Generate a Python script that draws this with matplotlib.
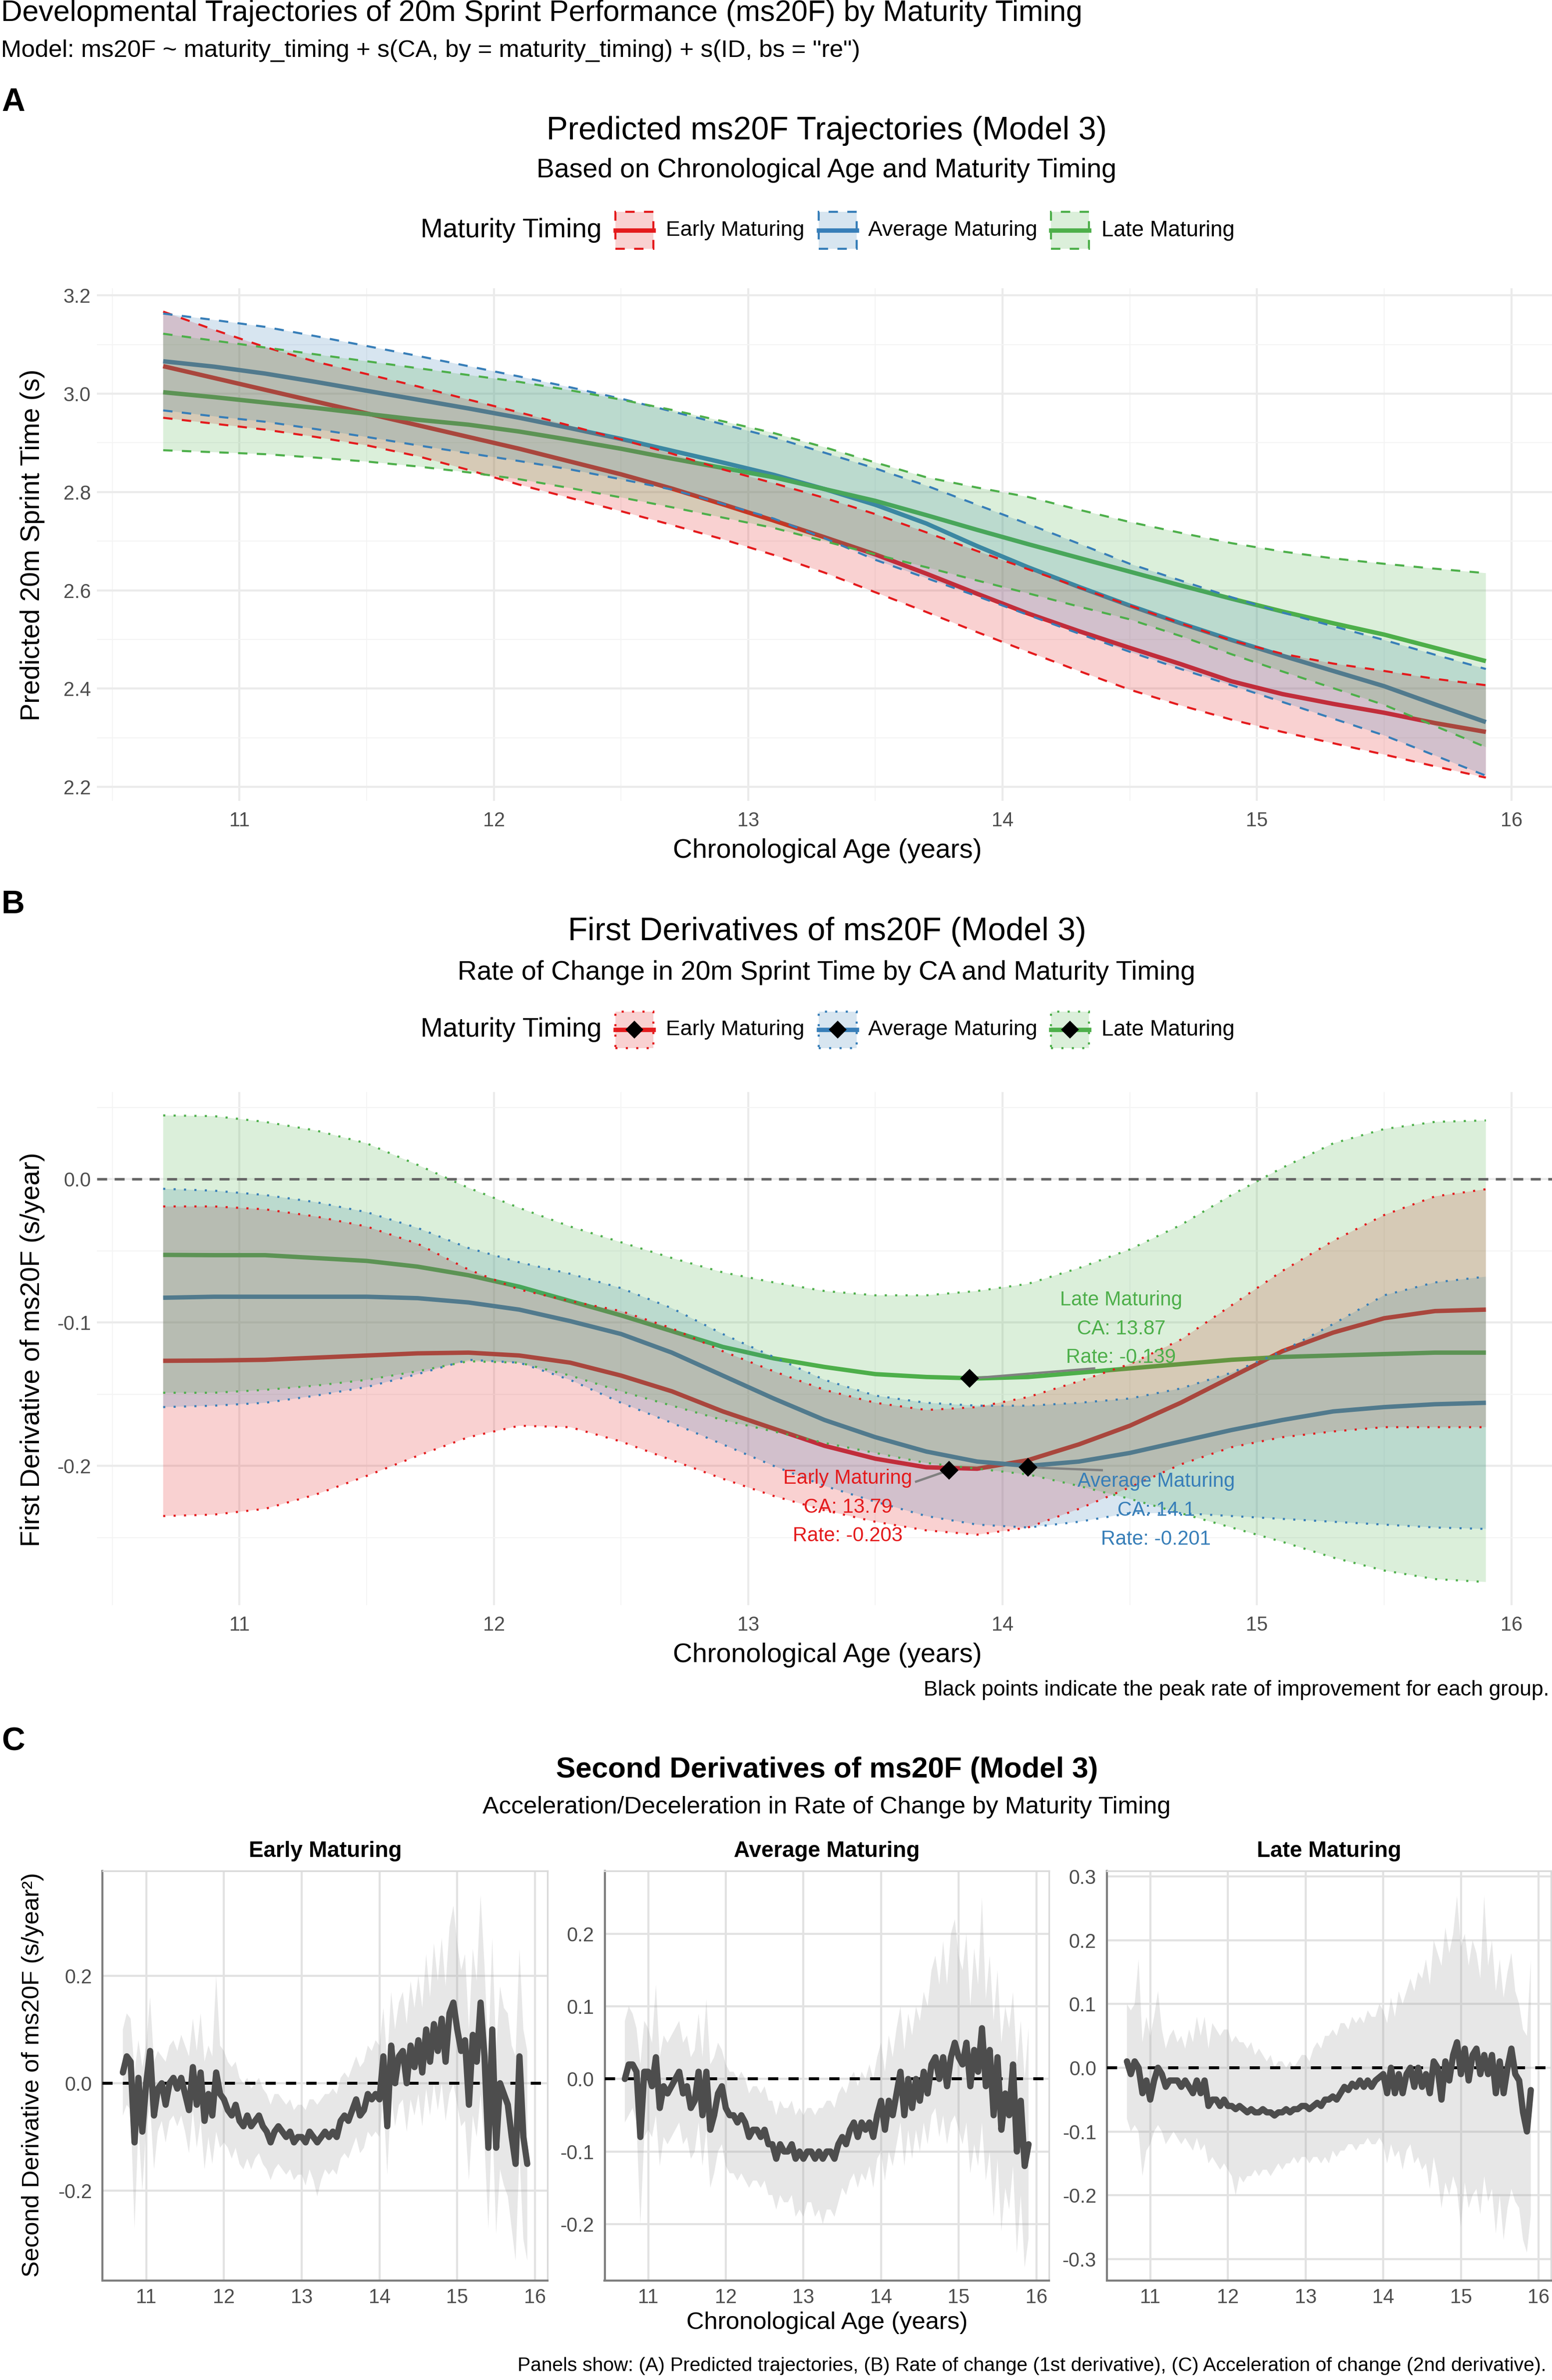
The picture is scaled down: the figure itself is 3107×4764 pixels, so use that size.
import numpy as np
import matplotlib
matplotlib.use("Agg")
import matplotlib.pyplot as plt
from matplotlib.patches import Rectangle
from matplotlib.lines import Line2D
from matplotlib.ticker import FormatStrFormatter

plt.rcParams['font.family'] = ['Liberation Sans', 'DejaVu Sans']
plt.rcParams['axes.unicode_minus'] = False

# ---------------------------------------------------------------- data
groups = ["Early Maturing", "Average Maturing", "Late Maturing"]
group_colors = ["#E41A1C", "#377EB8", "#4DAF4A"]

ca = [10.7, 10.9, 11.1, 11.3, 11.5, 11.7, 11.9, 12.1, 12.3, 12.5, 12.7, 12.9, 13.1, 13.3,
      13.5, 13.7, 13.9, 14.1, 14.3, 14.5, 14.7, 14.9, 15.1, 15.3, 15.5, 15.7, 15.9]

# Panel A: predicted ms20F (fit, lower, upper)
fit_early = [3.056, 3.032, 3.008, 2.984, 2.960, 2.936, 2.912, 2.888, 2.862, 2.836, 2.807, 2.775, 2.742, 2.708,
             2.673, 2.634, 2.593, 2.553, 2.517, 2.483, 2.450, 2.415, 2.389, 2.369, 2.351, 2.330, 2.312]
upr_early = [3.167, 3.130, 3.095, 3.065, 3.040, 3.015, 2.988, 2.962, 2.935, 2.907, 2.878, 2.846, 2.818, 2.788,
             2.755, 2.718, 2.680, 2.643, 2.606, 2.569, 2.533, 2.498, 2.471, 2.451, 2.436, 2.420, 2.407]
lwr_early = [2.951, 2.939, 2.927, 2.912, 2.895, 2.873, 2.845, 2.815, 2.788, 2.761, 2.733, 2.704, 2.672, 2.636,
             2.596, 2.556, 2.515, 2.475, 2.436, 2.398, 2.366, 2.337, 2.312, 2.289, 2.266, 2.242, 2.219]
fit_avg = [3.066, 3.055, 3.041, 3.024, 3.006, 2.988, 2.970, 2.951, 2.930, 2.908, 2.884, 2.860, 2.835, 2.806,
           2.774, 2.736, 2.690, 2.647, 2.607, 2.569, 2.533, 2.499, 2.467, 2.436, 2.405, 2.368, 2.332]
upr_avg = [3.163, 3.150, 3.136, 3.117, 3.097, 3.077, 3.056, 3.035, 3.013, 2.990, 2.964, 2.938, 2.911, 2.880,
           2.848, 2.813, 2.774, 2.735, 2.695, 2.654, 2.620, 2.586, 2.555, 2.527, 2.499, 2.469, 2.440]
lwr_avg = [2.966, 2.954, 2.943, 2.928, 2.912, 2.895, 2.879, 2.863, 2.846, 2.826, 2.805, 2.776, 2.746, 2.706,
           2.662, 2.625, 2.588, 2.550, 2.512, 2.475, 2.440, 2.407, 2.373, 2.339, 2.305, 2.264, 2.223]
fit_late = [3.003, 2.993, 2.982, 2.971, 2.959, 2.947, 2.937, 2.923, 2.906, 2.888, 2.868, 2.849, 2.830, 2.806,
            2.782, 2.753, 2.723, 2.694, 2.666, 2.638, 2.610, 2.583, 2.557, 2.533, 2.510, 2.483, 2.456]
upr_late = [3.122, 3.108, 3.094, 3.080, 3.066, 3.052, 3.038, 3.024, 3.007, 2.988, 2.967, 2.944, 2.920, 2.891,
            2.860, 2.830, 2.809, 2.790, 2.764, 2.739, 2.717, 2.696, 2.679, 2.665, 2.654, 2.644, 2.635]
lwr_late = [2.885, 2.881, 2.877, 2.870, 2.862, 2.852, 2.840, 2.826, 2.808, 2.789, 2.769, 2.748, 2.727, 2.700,
            2.673, 2.647, 2.620, 2.594, 2.567, 2.541, 2.507, 2.470, 2.435, 2.401, 2.367, 2.324, 2.281]

# Panel B: first derivative (fit, lower, upper)
d1_early = [-0.1267, -0.1265, -0.126, -0.1245, -0.123, -0.1215, -0.121, -0.123, -0.128, -0.137, -0.148, -0.162,
            -0.174, -0.186, -0.195, -0.201, -0.202, -0.196, -0.185, -0.172, -0.156, -0.138, -0.120, -0.107,
            -0.097, -0.092, -0.091]
d1_early_hi = [-0.019, -0.019, -0.021, -0.026, -0.033, -0.045, -0.063, -0.077, -0.085, -0.092, -0.104, -0.120,
               -0.134, -0.147, -0.156, -0.161, -0.159, -0.152, -0.141, -0.129, -0.112, -0.088, -0.064, -0.043,
               -0.025, -0.012, -0.007]
d1_early_lo = [-0.235, -0.234, -0.230, -0.220, -0.207, -0.193, -0.180, -0.172, -0.173, -0.183, -0.196, -0.209,
               -0.221, -0.231, -0.239, -0.245, -0.248, -0.243, -0.230, -0.215, -0.199, -0.187, -0.180, -0.176,
               -0.173, -0.173, -0.173]
d1_avg = [-0.0827, -0.082, -0.082, -0.082, -0.082, -0.083, -0.086, -0.091, -0.099, -0.108, -0.121, -0.137,
          -0.153, -0.168, -0.180, -0.190, -0.197, -0.200, -0.197, -0.191, -0.183, -0.175, -0.168, -0.162,
          -0.159, -0.157, -0.156]
d1_avg_hi = [-0.0067, -0.008, -0.011, -0.016, -0.023, -0.034, -0.048, -0.058, -0.066, -0.076, -0.090, -0.108,
             -0.124, -0.140, -0.151, -0.156, -0.158, -0.158, -0.156, -0.153, -0.146, -0.135, -0.120, -0.101,
             -0.081, -0.072, -0.068]
d1_avg_lo = [-0.159, -0.158, -0.156, -0.151, -0.145, -0.136, -0.126, -0.128, -0.140, -0.156, -0.170, -0.185,
             -0.200, -0.214, -0.225, -0.235, -0.241, -0.243, -0.239, -0.233, -0.233, -0.235, -0.237, -0.239,
             -0.241, -0.243, -0.244]
d1_late = [-0.0528, -0.053, -0.053, -0.055, -0.057, -0.061, -0.067, -0.075, -0.085, -0.095, -0.106, -0.117,
           -0.125, -0.131, -0.136, -0.138, -0.139, -0.138, -0.135, -0.132, -0.129, -0.126, -0.124, -0.123,
           -0.122, -0.121, -0.121]
d1_late_hi = [0.0445, 0.044, 0.040, 0.034, 0.025, 0.010, -0.006, -0.020, -0.033, -0.044, -0.055, -0.065,
              -0.072, -0.078, -0.081, -0.081, -0.078, -0.073, -0.062, -0.049, -0.032, -0.011, 0.008, 0.025,
              0.035, 0.040, 0.041]
d1_late_lo = [-0.149, -0.149, -0.147, -0.144, -0.140, -0.134, -0.127, -0.128, -0.137, -0.148, -0.158, -0.168,
              -0.176, -0.184, -0.191, -0.198, -0.202, -0.206, -0.214, -0.223, -0.233, -0.243, -0.253, -0.264,
              -0.273, -0.279, -0.281]

peak_ca = [13.79, 14.1, 13.87]
peak_rate = [-0.203, -0.201, -0.139]

# Panel C: second derivative on a 0.05-year grid (10.70 ... 15.90)
ca2 = np.round(np.arange(10.70, 15.9001, 0.05), 2)

d2_early = [0.02, 0.05, 0.04, -0.11, 0.01, -0.09,
            0.00, 0.06, -0.06, -0.01, 0.00, -0.04, 0.00, 0.01, -0.01, 0.01, -0.02, -0.05, 0.03, -0.04, 0.02, -0.07, -0.02, -0.06, 0.02, -0.02,
            -0.03, -0.05, -0.06, -0.04, -0.07, -0.08, -0.06, -0.08, -0.07, -0.06, -0.08, -0.09, -0.11, -0.09, -0.08, -0.09, -0.10, -0.09, -0.11, -0.10,
            -0.10, -0.11, -0.09, -0.10, -0.11, -0.10, -0.09, -0.10, -0.09, -0.10, -0.07, -0.06, -0.07, -0.05, -0.03, -0.06, -0.05, -0.02, -0.03, -0.02,
            -0.03, 0.05, -0.08, 0.07, 0.00, 0.05, 0.06, 0.00, 0.07, 0.03, 0.08, 0.02, 0.10, 0.04, 0.11, 0.06, 0.12, 0.04, 0.13, 0.15,
            0.10, 0.06, 0.08, -0.04, 0.09, 0.04, 0.15, 0.05, -0.12, 0.10, -0.12, 0.00, -0.02, -0.04, -0.10, -0.15, 0.05, -0.10, -0.15]
d2_early_hi = [0.10, 0.13, 0.12, 0.02, 0.08, 0.03,
               0.07, 0.16, 0.04, 0.06, 0.05, 0.04, 0.07, 0.08, 0.06, 0.09, 0.07, 0.05, 0.12, 0.06, 0.13, 0.04, 0.07, 0.05, 0.20, 0.07,
               0.06, 0.04, 0.03, 0.04, 0.01, 0.00, 0.01, -0.01, 0.00, 0.01, -0.01, -0.02, -0.04, -0.02, -0.02, -0.03, -0.04, -0.03, -0.05, -0.04,
               -0.04, -0.05, -0.03, -0.03, -0.04, -0.03, -0.02, -0.02, -0.01, -0.02, 0.01, 0.02, 0.01, 0.03, 0.05, 0.03, 0.04, 0.07, 0.06, 0.08,
               0.07, 0.14, 0.04, 0.17, 0.10, 0.15, 0.17, 0.11, 0.19, 0.14, 0.20, 0.14, 0.24, 0.16, 0.26, 0.19, 0.27, 0.18, 0.29, 0.33,
               0.26, 0.21, 0.24, 0.10, 0.25, 0.19, 0.35, 0.22, 0.05, 0.27, 0.06, 0.18, 0.14, 0.13, 0.07, 0.05, 0.25, 0.10, 0.06]
d2_early_lo = [-0.06, -0.04, -0.05, -0.27, -0.08, -0.20,
               -0.08, -0.04, -0.16, -0.09, -0.07, -0.11, -0.07, -0.06, -0.08, -0.06, -0.09, -0.13, -0.05, -0.12, -0.07, -0.16, -0.10, -0.15, -0.09, -0.12,
               -0.11, -0.12, -0.14, -0.12, -0.15, -0.16, -0.14, -0.16, -0.14, -0.13, -0.15, -0.16, -0.18, -0.16, -0.15, -0.16, -0.17, -0.16, -0.18, -0.17,
               -0.17, -0.19, -0.16, -0.18, -0.21, -0.18, -0.16, -0.17, -0.16, -0.17, -0.14, -0.13, -0.14, -0.12, -0.10, -0.13, -0.12, -0.09, -0.10, -0.09,
               -0.10, -0.03, -0.17, -0.02, -0.08, -0.04, -0.03, -0.09, -0.03, -0.06, -0.02, -0.08, -0.01, -0.06, 0.00, -0.05, 0.00, -0.07, -0.02, 0.00,
               -0.04, -0.08, -0.07, -0.18, -0.06, -0.10, -0.02, -0.11, -0.27, -0.06, -0.28, -0.16, -0.19, -0.21, -0.27, -0.33, -0.13, -0.29, -0.33]

d2_avg = [0.00, 0.02, 0.02, 0.01, -0.08, 0.01,
          0.01, -0.01, 0.03, -0.04, -0.01, -0.02, -0.01, 0.00, 0.01, -0.02, -0.01, -0.04, -0.03, 0.01, -0.05, 0.01, -0.07, -0.05, -0.02, -0.01,
          -0.04, -0.05, -0.05, -0.06, -0.05, -0.06, -0.08, -0.07, -0.07, -0.08, -0.07, -0.09, -0.09, -0.11, -0.09, -0.10, -0.10, -0.09, -0.11, -0.10,
          -0.11, -0.10, -0.10, -0.11, -0.10, -0.11, -0.10, -0.10, -0.11, -0.09, -0.08, -0.09, -0.07, -0.06, -0.08, -0.06, -0.07, -0.06, -0.08, -0.05,
          -0.03, -0.07, -0.03, -0.05, -0.02, 0.01, -0.05, 0.00, -0.04, 0.00, -0.03, 0.01, -0.02, 0.02, 0.03, 0.00, 0.03, -0.01, 0.03, 0.05,
          0.03, 0.02, 0.05, -0.01, 0.04, 0.01, 0.07, -0.01, 0.04, -0.05, 0.03, -0.07, -0.02, -0.05, 0.02, -0.10, -0.03, -0.12, -0.09]
d2_avg_hi = [0.08, 0.10, 0.09, 0.07, 0.02, 0.08,
             0.07, 0.05, 0.13, 0.03, 0.06, 0.05, 0.06, 0.07, 0.08, 0.05, 0.06, 0.03, 0.04, 0.09, 0.03, 0.11, 0.02, 0.03, 0.05, 0.04,
             0.02, 0.01, 0.01, 0.00, 0.01, 0.00, -0.02, -0.01, -0.01, -0.02, -0.01, -0.03, -0.03, -0.05, -0.03, -0.04, -0.04, -0.03, -0.05, -0.04,
             -0.05, -0.04, -0.04, -0.05, -0.04, -0.04, -0.03, -0.03, -0.04, -0.02, -0.01, -0.02, 0.00, 0.01, -0.01, 0.01, 0.00, 0.02, 0.00, 0.03,
             0.05, 0.01, 0.06, 0.03, 0.07, 0.10, 0.04, 0.09, 0.06, 0.10, 0.08, 0.12, 0.10, 0.15, 0.17, 0.13, 0.19, 0.13, 0.20, 0.22,
             0.17, 0.15, 0.20, 0.10, 0.18, 0.13, 0.25, 0.11, 0.17, 0.08, 0.15, 0.05, 0.10, 0.07, 0.12, 0.02, 0.08, 0.00, 0.07]
d2_avg_lo = [-0.06, -0.05, -0.04, -0.06, -0.20, -0.08,
             -0.07, -0.08, -0.05, -0.12, -0.08, -0.09, -0.08, -0.07, -0.06, -0.09, -0.08, -0.11, -0.10, -0.06, -0.12, -0.07, -0.15, -0.13, -0.10, -0.09,
             -0.12, -0.13, -0.13, -0.14, -0.13, -0.14, -0.15, -0.14, -0.14, -0.15, -0.14, -0.16, -0.16, -0.18, -0.16, -0.17, -0.17, -0.16, -0.19, -0.18,
             -0.19, -0.17, -0.17, -0.19, -0.18, -0.20, -0.18, -0.18, -0.19, -0.17, -0.15, -0.16, -0.14, -0.13, -0.15, -0.13, -0.14, -0.12, -0.15, -0.11,
             -0.10, -0.14, -0.10, -0.12, -0.09, -0.06, -0.12, -0.07, -0.11, -0.07, -0.10, -0.06, -0.09, -0.05, -0.04, -0.08, -0.05, -0.09, -0.06, -0.05,
             -0.07, -0.09, -0.06, -0.13, -0.09, -0.12, -0.06, -0.14, -0.10, -0.19, -0.11, -0.21, -0.15, -0.18, -0.12, -0.24, -0.16, -0.26, -0.22]

d2_late = [0.01, -0.01, 0.01, 0.00, -0.04, -0.02,
           -0.05, -0.02, 0.00, -0.01, -0.03, -0.02, -0.02, -0.02, -0.03, -0.02, -0.03, -0.04, -0.02, -0.04, -0.02, -0.06, -0.05, -0.05, -0.06, -0.05,
           -0.06, -0.06, -0.065, -0.06, -0.065, -0.07, -0.065, -0.07, -0.07, -0.065, -0.07, -0.07, -0.075, -0.07, -0.07, -0.065, -0.07, -0.065, -0.065, -0.06,
           -0.06, -0.065, -0.06, -0.055, -0.06, -0.05, -0.05, -0.045, -0.05, -0.04, -0.03, -0.035, -0.025, -0.03, -0.02, -0.03, -0.02, -0.03, -0.02, -0.015,
           -0.01, -0.04, 0.00, -0.04, -0.01, -0.04, -0.01, 0.00, -0.03, 0.00, -0.03, -0.01, -0.04, 0.01, 0.00, -0.05, 0.01, -0.02, 0.02, 0.04,
           -0.01, 0.03, -0.02, 0.02, 0.03, -0.01, 0.02, -0.01, 0.02, -0.04, 0.01, -0.04, 0.00, 0.03, -0.01, -0.02, -0.07, -0.10, -0.035]
d2_late_hi = [0.10, 0.09, 0.10, 0.17, 0.04, 0.08,
              0.05, 0.08, 0.12, 0.06, 0.03, 0.05, 0.06, 0.04, 0.05, 0.03, 0.06, 0.04, 0.08, 0.05, 0.08, 0.03, 0.07, 0.06, 0.05, 0.06,
              0.06, 0.04, 0.05, 0.04, 0.04, 0.03, 0.04, 0.02, 0.03, 0.02, 0.01, 0.02, 0.00, 0.01, 0.01, 0.00, 0.01, 0.00, 0.01, 0.02,
              0.02, 0.01, 0.03, 0.04, 0.03, 0.05, 0.05, 0.06, 0.05, 0.07, 0.07, 0.06, 0.08, 0.07, 0.08, 0.07, 0.09, 0.08, 0.08, 0.10,
              0.09, 0.07, 0.11, 0.08, 0.12, 0.10, 0.12, 0.14, 0.12, 0.15, 0.14, 0.17, 0.13, 0.20, 0.18, 0.16, 0.22, 0.18, 0.21, 0.27,
              0.19, 0.21, 0.16, 0.20, 0.18, 0.14, 0.27, 0.16, 0.20, 0.12, 0.17, 0.11, 0.15, 0.18, 0.12, 0.10, 0.06, 0.05, 0.17]
d2_late_lo = [-0.08, -0.10, -0.09, -0.10, -0.17, -0.13,
              -0.12, -0.10, -0.09, -0.10, -0.12, -0.11, -0.10, -0.11, -0.12, -0.11, -0.12, -0.13, -0.11, -0.13, -0.12, -0.15, -0.14, -0.15, -0.16, -0.15,
              -0.16, -0.17, -0.20, -0.17, -0.18, -0.17, -0.17, -0.16, -0.17, -0.16, -0.16, -0.17, -0.16, -0.15, -0.16, -0.15, -0.15, -0.14, -0.15, -0.14,
              -0.14, -0.15, -0.14, -0.14, -0.15, -0.14, -0.15, -0.13, -0.14, -0.13, -0.13, -0.12, -0.12, -0.13, -0.12, -0.12, -0.11, -0.12, -0.12, -0.11,
              -0.12, -0.15, -0.12, -0.14, -0.13, -0.16, -0.13, -0.12, -0.15, -0.14, -0.16, -0.15, -0.19, -0.14, -0.17, -0.22, -0.18, -0.20, -0.17, -0.19,
              -0.25, -0.18, -0.22, -0.20, -0.19, -0.23, -0.17, -0.21, -0.19, -0.26, -0.20, -0.27, -0.22, -0.19, -0.21, -0.22, -0.27, -0.29, -0.23]

x_major = [11, 12, 13, 14, 15, 16]

# ---------------------------------------------------------------- layout helpers
W, H = 3107, 4764
DPI = 300
fig = plt.figure(figsize=(W / DPI, H / DPI), dpi=DPI)
fig.patch.set_facecolor("white")
renderer = fig.canvas.get_renderer()


def fx(px):
    return px / W


def fy(py):
    return 1 - py / H


def fit_text(x, y, s, width_px, rotation=0, **kw):
    t = fig.text(fx(x), fy(y), s, fontsize=10, **kw)
    w = t.get_window_extent(renderer).width
    t.set_fontsize(10 * width_px / w)
    if rotation:
        t.set_rotation(rotation)
    return t


def fit_size(s, width_px, **kw):
    t = fig.text(0, 0, s, fontsize=10, **kw)
    w = t.get_window_extent(renderer).width
    t.remove()
    return 10 * width_px / w


def add_axes_px(x0, y0, x1, y1):
    return fig.add_axes([x0 / W, 1 - y1 / H, (x1 - x0) / W, (y1 - y0) / H])


XLIM = (10.44, 16.16)
TICK_SIZE = 9.5
TICK_COLOR = "#4D4D4D"
DASH = (0, (4.5, 4.5))
DOT = (0, (1, 4))


def style_main(ax, ylim, yticks, yminor):
    ax.set_xlim(*XLIM)
    ax.set_ylim(*ylim)
    ax.set_xticks(x_major)
    ax.set_xticklabels([str(v) for v in x_major])
    ax.set_xticks([10.5, 11.5, 12.5, 13.5, 14.5, 15.5], minor=True)
    ax.set_yticks(yticks)
    ax.set_yticks(yminor, minor=True)
    ax.yaxis.set_major_formatter(FormatStrFormatter('%.1f'))
    for s in ax.spines.values():
        s.set_visible(False)
    ax.grid(True, which='major', color='#EBEBEB', lw=1.0)
    ax.grid(True, which='minor', color='#F4F4F4', lw=0.5)
    ax.tick_params(axis='both', which='both', length=0, labelsize=TICK_SIZE, labelcolor=TICK_COLOR)
    ax.tick_params(axis='x', pad=5)
    ax.tick_params(axis='y', pad=3)
    ax.set_axisbelow(True)


def legend_row(yc, ls, with_marker):
    fit_text(842, yc, "Maturity Timing", 361, ha='left', va='center')
    key_x = [1232, 1639, 2104]
    lab_x = [1333, 1738, 2205]
    lab_w = [278, 338, 266]
    kw, kh = 76, 73
    for i, g in enumerate(groups):
        c = group_colors[i]
        rect = Rectangle((fx(key_x[i]), fy(yc + kh / 2)), kw / W, kh / H, transform=fig.transFigure,
                         facecolor=matplotlib.colors.to_rgba(c, 0.2), edgecolor=c, lw=1.0, ls=ls)
        fig.add_artist(rect)
        fig.add_artist(Line2D([fx(key_x[i]), fx(key_x[i] + kw)], [fy(yc), fy(yc)],
                              transform=fig.transFigure, color=c, lw=2.1))
        if with_marker:
            fig.add_artist(Line2D([fx(key_x[i] + kw / 2)], [fy(yc)], transform=fig.transFigure,
                                  marker='D', ms=5.0, color='black', ls='none'))
        fit_text(lab_x[i], yc, g, lab_w[i], ha='left', va='center')


# ---------------------------------------------------------------- titles
fit_text(2, 27, "Developmental Trajectories of 20m Sprint Performance (ms20F) by Maturity Timing", 2160,
         ha='left', va='center')
fit_text(2, 101, 'Model: ms20F ~ maturity_timing + s(CA, by = maturity_timing) + s(ID, bs = "re")', 1720,
         ha='left', va='center')

# ================================================================ Panel A
fig.text(fx(3), fy(205), "A", fontsize=15.5, fontweight='bold', ha='left', va='center')
fit_text(1655, 262, "Predicted ms20F Trajectories (Model 3)", 1119, ha='center', va='center')
fit_text(1654, 341, "Based on Chronological Age and Maturity Timing", 1157, ha='center', va='center')
legend_row(461, DASH, False)

axA = add_axes_px(194.3, 577.1, 3107, 1603.2)
style_main(axA, (2.1716, 3.2144), [2.2, 2.4, 2.6, 2.8, 3.0, 3.2], [2.3, 2.5, 2.7, 2.9, 3.1])
A_series = [(fit_early, lwr_early, upr_early), (fit_avg, lwr_avg, upr_avg), (fit_late, lwr_late, upr_late)]
for i, (f, lo, hi) in enumerate(A_series):
    axA.plot(ca, f, color=group_colors[i], lw=2.1, zorder=3, solid_capstyle='butt')
for i, (f, lo, hi) in enumerate(A_series):
    c = group_colors[i]
    axA.fill_between(ca, lo, hi, facecolor=c, alpha=0.2, lw=0, zorder=4)
    axA.plot(ca, lo, color=c, lw=1.0, ls=DASH, zorder=5)
    axA.plot(ca, hi, color=c, lw=1.0, ls=DASH, zorder=5)
fit_text(1656, 1703, "Chronological Age (years)", 618, ha='center', va='center')
fit_text(65, 1091, "Predicted 20m Sprint Time (s)", 704, rotation=90, ha='center', va='center')

# ================================================================ Panel B
fig.text(fx(3), fy(1811), "B", fontsize=15.5, fontweight='bold', ha='left', va='center')
fit_text(1656, 1865, "First Derivatives of ms20F (Model 3)", 1035, ha='center', va='center')
fit_text(1654, 1947, "Rate of Change in 20m Sprint Time by CA and Maturity Timing", 1475, ha='center', va='center')
legend_row(2061, DOT, True)

axB = add_axes_px(194.3, 2186.0, 3107, 3213.3)
style_main(axB, (-0.29728, 0.06078), [-0.2, -0.1, 0.0], [-0.25, -0.15, -0.05, 0.05])
B_series = [(d1_early, d1_early_lo, d1_early_hi), (d1_avg, d1_avg_lo, d1_avg_hi), (d1_late, d1_late_lo, d1_late_hi)]
for i, (f, lo, hi) in enumerate(B_series):
    axB.plot(ca, f, color=group_colors[i], lw=2.1, zorder=3, solid_capstyle='butt')
for i, (f, lo, hi) in enumerate(B_series):
    c = group_colors[i]
    axB.fill_between(ca, lo, hi, facecolor=c, alpha=0.2, lw=0, zorder=4)
    axB.plot(ca, lo, color=c, lw=1.0, ls=DOT, zorder=5)
    axB.plot(ca, hi, color=c, lw=1.0, ls=DOT, zorder=5)
axB.axhline(0, color='#666666', lw=1.2, ls=(0, (4, 3)), zorder=6)

# peak points and labels (offsets in data units are layout only)
label_off = [(-0.398, -0.0257), (0.503, -0.030), (0.596, 0.0347)]
seg_off = [(-0.13, -0.008), (0.29, -0.002), (0.49, 0.007)]
ann_size = fit_size("Late Maturing", 244)
for i, g in enumerate(groups):
    px_, py_ = peak_ca[i], peak_rate[i]
    axB.plot([px_, px_ + seg_off[i][0]], [py_, py_ + seg_off[i][1]], color='#808080', lw=1.1, zorder=7)
    axB.plot([px_], [py_], marker='D', ms=5.3, color='black', ls='none', zorder=8)
    lx, ly = px_ + label_off[i][0], py_ + label_off[i][1]
    lines = [g, f"CA: {peak_ca[i]}", f"Rate: {peak_rate[i]}"]
    for k, s in enumerate(lines):
        axB.text(lx, ly + (1 - k) * 0.0201, s, color=group_colors[i], fontsize=ann_size,
                 ha='center', va='center', zorder=9)
fit_text(1656, 3313, "Chronological Age (years)", 618, ha='center', va='center')
fit_text(65, 2701, "First Derivative of ms20F (s/year)", 788, rotation=90, ha='center', va='center')
fit_text(3101, 3383, "Black points indicate the peak rate of improvement for each group.", 1254,
         ha='right', va='center')

# ================================================================ Panel C
fig.text(fx(3), fy(3487), "C", fontsize=15.5, fontweight='bold', ha='left', va='center')
fit_text(1656, 3543, "Second Derivatives of ms20F (Model 3)", 1086, ha='center', va='center', fontweight='bold')
fit_text(1655, 3617, "Acceleration/Deceleration in Rate of Change by Maturity Timing", 1377,
         ha='center', va='center')

c_rects = [(205.5, 1096.0), (1210.5, 2099.5), (2215.6, 3105.0)]
c_ylims = [(-0.367, 0.395), (-0.278, 0.287), (-0.334, 0.309)]
c_yticks = [[-0.2, 0.0, 0.2], [-0.2, -0.1, 0.0, 0.1, 0.2], [-0.3, -0.2, -0.1, 0.0, 0.1, 0.2, 0.3]]
strip_w = [307, 372, 290]
C_series = [(d2_early, d2_early_lo, d2_early_hi), (d2_avg, d2_avg_lo, d2_avg_hi), (d2_late, d2_late_lo, d2_late_hi)]
for i, g in enumerate(groups):
    x0, x1 = c_rects[i]
    ax = add_axes_px(x0, 3744.8, x1, 4565.0)
    f, lo, hi = C_series[i]
    ax.fill_between(ca2, lo, hi, facecolor='#A0A0A0', alpha=0.25, lw=0, zorder=2)
    ax.axhline(0, color='black', lw=1.4, ls=(0, (3.5, 3.5)), zorder=3)
    ax.plot(ca2, f, color='#4D4D4D', lw=3.0, zorder=4, solid_joinstyle='round', solid_capstyle='round')
    ax.set_xlim(*XLIM)
    ax.set_ylim(*c_ylims[i])
    ax.set_xticks(x_major)
    ax.set_xticklabels([str(v) for v in x_major])
    ax.set_yticks(c_yticks[i])
    ax.yaxis.set_major_formatter(FormatStrFormatter('%.1f'))
    ax.grid(True, which='major', color='#E2E2E2', lw=1.0)
    ax.set_axisbelow(True)
    for side in ['top', 'right']:
        ax.spines[side].set_color('#DADADA')
        ax.spines[side].set_linewidth(0.8)
    for side in ['left', 'bottom']:
        ax.spines[side].set_color('#7F7F7F')
        ax.spines[side].set_linewidth(1.0)
    ax.tick_params(axis='both', length=0, labelsize=TICK_SIZE, labelcolor=TICK_COLOR)
    ax.tick_params(axis='x', pad=3.6)
    ax.tick_params(axis='y', pad=5)
    fit_text((x0 + x1) / 2, 3705, g, strip_w[i], ha='center', va='center', fontweight='bold')

fit_text(1656, 4650, "Chronological Age (years)", 563, ha='center', va='center')
fit_text(66, 4153, "Second Derivative of ms20F (s/year\u00b2)", 810, rotation=90, ha='center', va='center')
fit_text(3095, 4736, "Panels show: (A) Predicted trajectories, (B) Rate of change (1st derivative), "
                     "(C) Acceleration of change (2nd derivative).", 2060, ha='right', va='center')

fig.savefig("out.png", dpi=DPI)
